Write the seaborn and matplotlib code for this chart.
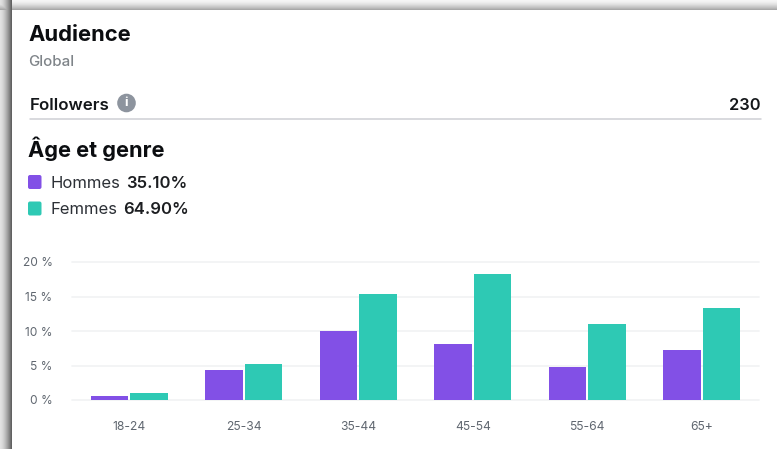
import numpy as np
import pandas as pd
import matplotlib
matplotlib.use("Agg")
import matplotlib.pyplot as plt
from matplotlib.patches import Circle, FancyBboxPatch
from matplotlib.lines import Line2D
import seaborn as sns

# Values
age_groups = ["18-24", "25-34", "35-44", "45-54", "55-64", "65+"]
hommes = [0.6, 4.35, 10.0, 8.1, 4.75, 7.2]
femmes = [1.0, 5.25, 15.4, 18.3, 11.0, 13.4]
y_ticks = [0, 5, 10, 15, 20]
purple = "#8250e6"
teal = "#2ec9b4"

W, H = 777, 449

sns.set_theme(style="white")
plt.rcParams["font.family"] = ["Inter", "DejaVu Sans"]

df = pd.DataFrame({
    "age": age_groups * 2,
    "pct": hommes + femmes,
    "genre": ["Hommes"] * 6 + ["Femmes"] * 6,
})

fig = plt.figure(figsize=(W / 100, H / 100), dpi=100, facecolor="white")


def px(x, y):
    # picture pixels (origin top left) to figure fractions
    return x / W, 1 - y / H


# --- card shadow behind everything ---
bg = fig.add_axes([0, 0, 1, 1], zorder=0)
shade = np.ones((H, W))
for i in range(10):
    shade[i, :] = 0.96 - 0.30 * (i / 9) ** 1.5
for j in range(12):
    shade[:, j] = np.minimum(shade[:, j], 0.88 - 0.50 * (j / 11) ** 1.5)
shade[10:, 12:] = 1
bg.imshow(shade, cmap="gray", vmin=0, vmax=1, aspect="auto", interpolation="nearest")
bg.axis("off")

# --- chart ---
left, bottom = px(72, 416)
ax = fig.add_axes([left, bottom, 687 / W, 154 / H], zorder=2)
ax.patch.set_alpha(0)
sns.barplot(data=df, x="age", y="pct", hue="genre", hue_order=["Hommes", "Femmes"],
            palette=[purple, teal], saturation=1, width=0.69, gap=0.04, linewidth=0,
            legend=False, ax=ax, zorder=3)
ax.set_xlim(-0.5, 5.5)
# 6.9 px per percent, zero line at y=400 and axes bottom at y=416
ax.set_ylim(-16 / 6.9, 138 / 6.9)
ax.set_yticks(y_ticks)
ax.set_yticklabels([f"{t} %" for t in y_ticks])
ax.set_xlabel("")
ax.set_ylabel("")
ax.grid(False)
for t in y_ticks:
    ax.axhline(t, color="#f2f3f5", lw=1.3, zorder=1, clip_on=False)
sns.despine(ax=ax, left=True, bottom=True, top=True, right=True)
ax.tick_params(axis="y", length=0, pad=14, labelsize=8.6, labelcolor="#606770")
ax.tick_params(axis="x", length=0, pad=3.5, labelsize=8.7, labelcolor="#606770")

# --- header text ---
dark = "#14171a"
def label(x, y, s, **kw):
    fx, fy = px(x, y)
    return fig.text(fx, fy, s, va="center", zorder=3, **kw)

label(28, 35, "Audience", fontsize=15.8, fontweight="bold", color="#0b0d10")
label(28, 62, "Global", fontsize=10.8, fontweight="medium", color="#7f8489")
label(30, 105, "Followers", fontsize=12.2, fontweight="semibold", color=dark)
label(761, 105, "230", fontsize=11.8, fontweight="semibold", color=dark, ha="right")
label(28, 149, "Âge et genre", fontsize=15.7, fontweight="bold", color="#0b0d10")

# separator under the followers row
x0, y0 = px(30, 119.5)
x1, _ = px(761, 119.5)
fig.add_artist(Line2D([x0, x1], [y0, y0], color="#ced0d4", lw=1.1, zorder=3))

# info icon
overlay = fig.add_axes([0, 0, 1, 1], zorder=3)
overlay.set_xlim(0, W)
overlay.set_ylim(H, 0)
overlay.axis("off")
overlay.add_patch(Circle((126.5, 103), 9.3, color="#8d949e", lw=0))
overlay.text(126.5, 103.5, "i", color="white", fontsize=9.5, fontweight="bold",
             ha="center", va="center")

# legend built by hand, value part is bold
legend_rows = [("Hommes", "35.10%", purple, 182), ("Femmes", "64.90%", teal, 208.5)]
rend = fig.canvas.get_renderer()
for name, share, colour, y in legend_rows:
    overlay.add_patch(FancyBboxPatch((28, y - 7), 13.5, 14, boxstyle="round,pad=0,rounding_size=2",
                                     fc=colour, ec="none"))
    t = overlay.text(51, y + 1.5, name, fontsize=12, color="#2c3036", va="center")
    bb = t.get_window_extent(rend)
    overlay.text(bb.x1 + 5, y + 1.5, share, fontsize=12, fontweight="semibold", color="#1c1e21", va="center")

fig.savefig("out.png", dpi=100)
plt.close(fig)
